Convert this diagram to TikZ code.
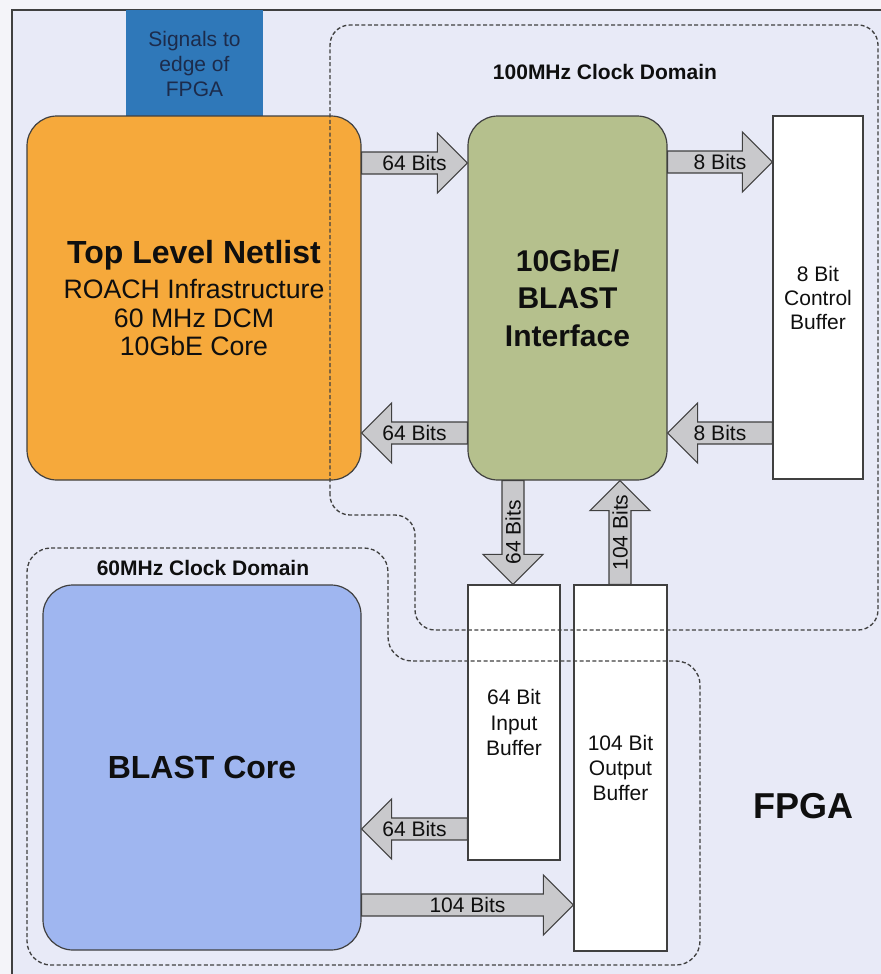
\documentclass[tikz,border=0pt]{standalone}
\usepackage{fontspec}
\setmainfont{Liberation Sans}
\usetikzlibrary{calc}
\definecolor{bgin}{HTML}{E8EAF7}
\definecolor{bgout}{HTML}{F4F4F9}
\definecolor{sigblue}{HTML}{2F78B9}
\definecolor{orangebox}{HTML}{F6A93B}
\definecolor{greenbox}{HTML}{B5C08D}
\definecolor{corebox}{HTML}{9FB6F0}
\definecolor{arrowgray}{HTML}{C9C9CC}
\definecolor{edgec}{HTML}{404040}
\definecolor{navy}{HTML}{1C2B4B}
\definecolor{txt}{HTML}{0F0F0F}
\tikzset{
  box/.style={draw=edgec, line width=0.9pt, inner sep=0pt, align=center, text=txt},
  rbox/.style={box, rounded corners=22.5pt},
  barrow/.style={draw=edgec, fill=arrowgray, line width=0.8pt, line join=miter},
  lbl/.style={inner sep=0pt, text=txt, font=\fontsize{15.75}{18}\selectfont},
  clkdomain/.style={draw=edgec, line width=1pt, dash pattern=on 3pt off 1.8pt, rounded corners=15pt},
  domlbl/.style={inner sep=0pt, text=txt, font=\fontsize{15.75}{18}\selectfont\bfseries},
}
\newcommand{\blockarrow}[5]{%
  \coordinate (#3-s) at #1;
  \coordinate (#3-e) at #2;
  \coordinate (#3-h) at ($(#3-e)!22.5pt!(#3-s)$);
  \draw[barrow] ($(#3-s)!8.25pt!90:(#3-e)$) -- ($(#3-h)!8.25pt!-90:(#3-s)$)
     -- ($(#3-h)!22.5pt!-90:(#3-s)$) -- (#3-e) -- ($(#3-h)!22.5pt!90:(#3-s)$)
     -- ($(#3-h)!8.25pt!90:(#3-s)$) -- ($(#3-s)!8.25pt!-90:(#3-e)$) -- cycle;
  \node[lbl, rotate=#4] (#3) at ($(#3-s)!0.5!(#3-e)$) {#5};
}
\begin{document}
\begin{tikzpicture}[x=0.75pt, y=-0.75pt]
\useasboundingbox (0,0) rectangle (881,974);
\clip (0,0) rectangle (881,974);
\fill[bgout] (0,0) rectangle (881,974);
\fill[bgin] (12,10) rectangle (900,1000);
\draw[edgec, line width=0.9pt] (12,1000) -- (12,10) -- (900,10);

% signals box
\node[box, fill=sigblue, draw=none, minimum width=102.75pt, minimum height=80.25pt, text=navy,
  font=\fontsize{15.75}{18.75}\selectfont] (sig) at (194.5,63.5) {Signals to\\edge of\\FPGA};

% main blocks
\node[rbox, fill=orangebox, minimum width=250.5pt, minimum height=273pt,
  font=\fontsize{20}{21.4}\selectfont] (top) at (194,298)
  {{\fontsize{24}{29}\selectfont\bfseries Top Level Netlist}\\[5.25pt]ROACH Infrastructure\\60 MHz DCM\\10GbE Core};
\node[rbox, fill=greenbox, minimum width=149.25pt, minimum height=273pt,
  font=\fontsize{22.5}{28}\selectfont\bfseries] (gb) at (567.5,298) {10GbE/\\BLAST\\Interface};
\node[box, fill=white, minimum width=67.5pt, minimum height=272.25pt,
  font=\fontsize{15.75}{18}\selectfont] (ctl) at (818,297.5) {8 Bit\\Control\\Buffer};
\node[box, fill=white, minimum width=69pt, minimum height=206.25pt,
  font=\fontsize{15.75}{19}\selectfont] (inb) at (514,722.5) {64 Bit\\Input\\Buffer};
\node[box, fill=white, minimum width=69.75pt, minimum height=274.5pt,
  font=\fontsize{15.75}{19}\selectfont] (outb) at (620.5,768) {104 Bit\\Output\\Buffer};
\node[rbox, fill=corebox, minimum width=238.5pt, minimum height=273.75pt,
  font=\fontsize{24}{28}\selectfont\bfseries] (core) at (202,767.5) {BLAST Core};

\node[inner sep=0pt, text=txt, font=\fontsize{27}{30}\selectfont\bfseries] (fpga) at (803,806) {FPGA};

% arrows
\blockarrow{(top.east |- 0,163)}{(gb.west |- 0,163)}{a1}{0}{64 Bits}
\blockarrow{(gb.east |- 0,162)}{(ctl.west |- 0,162)}{a2}{0}{8 Bits}
\blockarrow{(gb.west |- 0,433)}{(top.east |- 0,433)}{a3}{0}{64 Bits}
\blockarrow{(ctl.west |- 0,433)}{(gb.east |- 0,433)}{a4}{0}{8 Bits}
\blockarrow{(gb.south -| 513,0)}{(inb.north -| 513,0)}{a5}{90}{64 Bits}
\blockarrow{(outb.north -| 620,0)}{(gb.south -| 620,0)}{a6}{90}{104 Bits}
\blockarrow{(inb.west |- 0,829)}{(core.east |- 0,829)}{a7}{0}{64 Bits}
\blockarrow{(core.east |- 0,905)}{(outb.west |- 0,905)}{a8}{0}{104 Bits}

% clock domains
\draw[clkdomain] (330,515) -- (330,25) -- (878,25) -- (878,630) -- (415,630) -- (415,515) -- cycle;
\draw[clkdomain, rounded corners=18pt] (27,548) -- (388,548) -- (388,661) -- (700,661) -- (700,965) -- (27,965) -- cycle;
\node[domlbl] (d100) at (605,72) {100MHz Clock Domain};
\node[domlbl] (d60) at (203,568) {60MHz Clock Domain};
\end{tikzpicture}
\end{document}
